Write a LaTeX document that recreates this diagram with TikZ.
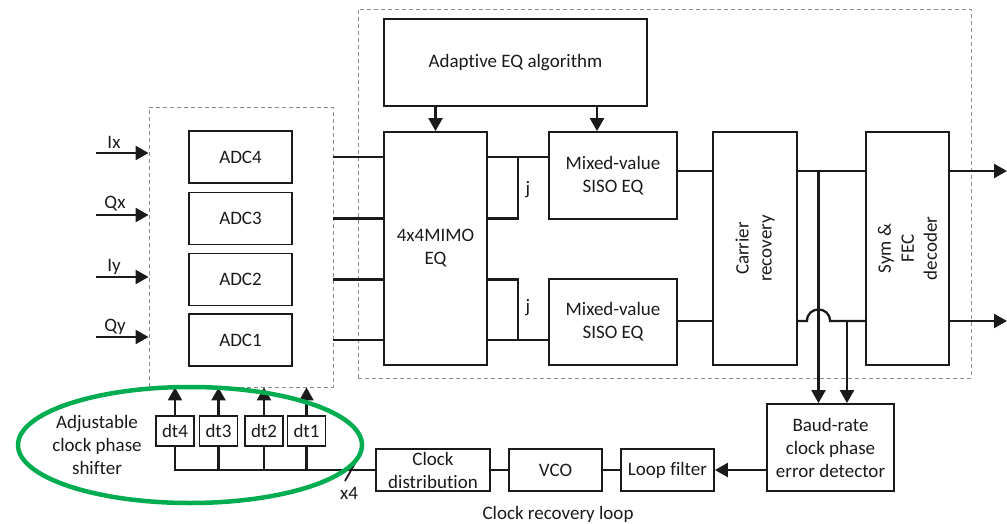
\documentclass[tikz,border=0pt]{standalone}
\usepackage{fontspec}
\setmainfont{Carlito}[Ligatures={NoCommon}]
\usetikzlibrary{arrows.meta,calc,shapes.geometric}
\definecolor{ringgreen}{HTML}{00AC50}
\definecolor{ink}{HTML}{1A1A1A}

\begin{document}
\begin{tikzpicture}[x=1pt,y=-1pt,
  every node/.style={font=\fontsize{19}{23}\selectfont, text=ink},
  blk/.style={draw=ink, line width=1.8pt, inner sep=0pt, align=center},
  wire/.style={line width=2.3pt, draw=ink},
  arr/.style={wire, -{Triangle[length=13pt,width=14pt]}},
  group/.style={draw=black!45, line width=0.9pt, dash pattern=on 4pt off 3pt, inner sep=0pt},
  lbl/.style={inner sep=0pt, align=center}
]
\useasboundingbox (0,0) rectangle (1007,524);

% dashed groupings
\node[group, minimum width=184pt, minimum height=280pt] (adcgrp) at (241,247) {};
\node[group, minimum width=613pt, minimum height=369pt] (dspgrp) at (664.5,193.5) {};

% ADC column
\node[blk, minimum width=103pt, minimum height=52pt] (adc4) at (240.5,157) {ADC4};
\node[blk, minimum width=103pt, minimum height=52pt] (adc3) at (240.5,218.5) {ADC3};
\node[blk, minimum width=103pt, minimum height=52pt] (adc2) at (240.5,279.5) {ADC2};
\node[blk, minimum width=103pt, minimum height=52pt] (adc1) at (240.5,340) {ADC1};

% DSP blocks
\node[blk, minimum width=263pt, minimum height=87pt] (adapt) at (515.5,62.5) {Adaptive EQ algorithm};
\node[blk, minimum width=103pt, minimum height=233pt] (mimo) at (435.5,248.5) {4x4MIMO\\EQ};
\node[blk, minimum width=128pt, minimum height=87pt] (siso1) at (613,175.5) {Mixed-value\\SISO EQ};
\node[blk, minimum width=128pt, minimum height=86pt] (siso2) at (613,322) {Mixed-value\\SISO EQ};
\node[blk, minimum width=84pt, minimum height=233pt] (carrier) at (755,248.5) {};
\node[lbl, rotate=90] (carriertxt) at (carrier.center) {Carrier\\recovery};
\node[blk, minimum width=83pt, minimum height=233pt] (sym) at (907.5,248.5) {};
\node[lbl, rotate=90] (symtxt) at (sym.center) {Sym \&\\FEC\\decoder};

% clock recovery loop
\node[blk, minimum width=127pt, minimum height=87pt] (baud) at (830.5,447.5) {Baud-rate\\clock phase\\error detector};
\node[blk, minimum width=93pt, minimum height=42pt] (loopf) at (667.5,470) {Loop filter};
\node[blk, minimum width=93pt, minimum height=42pt] (vco) at (555.5,470) {VCO};
\node[blk, minimum width=114pt, minimum height=42pt] (clkdist) at (433,470) {Clock\\distribution};

% phase shifters
\node[blk, minimum width=38pt, minimum height=30pt] (dt4) at (175,431) {dt4};
\node[blk, minimum width=38pt, minimum height=30pt] (dt3) at (218.5,431) {dt3};
\node[blk, minimum width=38pt, minimum height=30pt] (dt2) at (264,431) {dt2};
\node[blk, minimum width=38pt, minimum height=30pt] (dt1) at (306.5,431) {dt1};

% analog inputs
\coordinate (in1) at (96,153);
\coordinate (in2) at (96,215);
\coordinate (in3) at (96,277);
\coordinate (in4) at (96,337);
\draw[arr] (in1) -- (in1 -| adcgrp.west);
\draw[arr] (in2) -- (in2 -| adcgrp.west);
\draw[arr] (in3) -- (in3 -| adcgrp.west);
\draw[arr] (in4) -- (in4 -| adcgrp.west);
\node[lbl] (lix) at (114,142) {Ix};
\node[lbl] (lqx) at (115,204) {Qx};
\node[lbl] (liy) at (114,267) {Iy};
\node[lbl] (lqy) at (115,327) {Qy};

% ADC outputs into MIMO
\draw[wire] (adcgrp.east |- adc4) -- (mimo.west |- adc4);
\draw[wire] (adcgrp.east |- adc3) -- (mimo.west |- adc3);
\draw[wire] (adcgrp.east |- adc2) -- (mimo.west |- adc2);
\draw[wire] (adcgrp.east |- adc1) -- (mimo.west |- adc1);

% MIMO to SISO with j combining
\coordinate (jx) at (518,0);
\draw[wire] (mimo.east |- adc4) -- (siso1.west |- adc4);
\draw[wire] (mimo.east |- adc3) -| (jx |- adc4);
\draw[wire] (mimo.east |- adc2) -| (jx |- adc1);
\draw[wire] (mimo.east |- adc1) -- (siso2.west |- adc1);
\node[lbl] (j1) at (528,190) {j};
\node[lbl] (j2) at (528,308) {j};

% adaptation
\coordinate (ax) at (597,0);
\draw[arr] (adapt.south -| mimo) -- (mimo.north);
\draw[arr] (adapt.south -| ax) -- (siso1.north -| ax);

% SISO -> carrier -> decoder
\coordinate (o1) at (0,171);
\coordinate (o2) at (0,321);
\coordinate (t1) at (818.5,0);
\coordinate (t2) at (847,0);
\coordinate (out1) at (1007,171);
\coordinate (out2) at (1007,321);
\draw[wire] (siso1.east |- o1) -- (carrier.west |- o1);
\draw[wire] (siso2.east |- o2) -- (carrier.west |- o2);
\draw[wire] (carrier.east |- o1) -- (sym.west |- o1);
\draw[wire] (carrier.east |- o2) -- ($(t1 |- o2)+(-11.5,0)$)
  .. controls ($(t1 |- o2)+(-11.5,-15.3)$) and ($(t1 |- o2)+(11.5,-15.3)$) .. ($(t1 |- o2)+(11.5,0)$)
  -- (sym.west |- o2);
\draw[arr] (t1 |- o1) -- (t1 |- baud.north);
\draw[arr] (t2 |- o2) -- (t2 |- baud.north);
\draw[arr] (sym.east |- o1) -- (out1);
\draw[arr] (sym.east |- o2) -- (out2);

% loop
\draw[arr] (baud.west |- loopf) -- (loopf.east);
\draw[wire] (loopf.west) -- (vco.east);
\draw[wire] (vco.west) -- (clkdist.east);
\draw[wire] (clkdist.west) -| (dt4.south);
\draw[wire] (dt3.south) -- (dt3.south |- clkdist);
\draw[wire] (dt2.south) -- (dt2.south |- clkdist);
\draw[wire] (dt1.south) -- (dt1.south |- clkdist);
\draw[arr] (dt4.north) -- (dt4.north |- adcgrp.south);
\draw[arr] (dt3.north) -- (dt3.north |- adcgrp.south);
\draw[arr] (dt2.north) -- (dt2.north |- adcgrp.south);
\draw[arr] (dt1.north) -- (dt1.north |- adcgrp.south);

% bus width mark
\coordinate (s1) at (345,481);
\coordinate (s2) at (358,458);
\draw[wire, line width=1.8pt] (s1) -- (s2);
\node[lbl] (x4) at (349,493) {x4};

\node[lbl] (looplbl) at (558,514) {Clock recovery loop};

% highlighted phase shifter
\node[draw=ringgreen, line width=4.5pt, ellipse, minimum width=344pt, minimum height=116pt, inner sep=0pt] (ring) at (190,445) {};
\node[lbl] (shiftlbl) at (97,445) {Adjustable\\clock phase\\shifter};
\end{tikzpicture}
\end{document}
